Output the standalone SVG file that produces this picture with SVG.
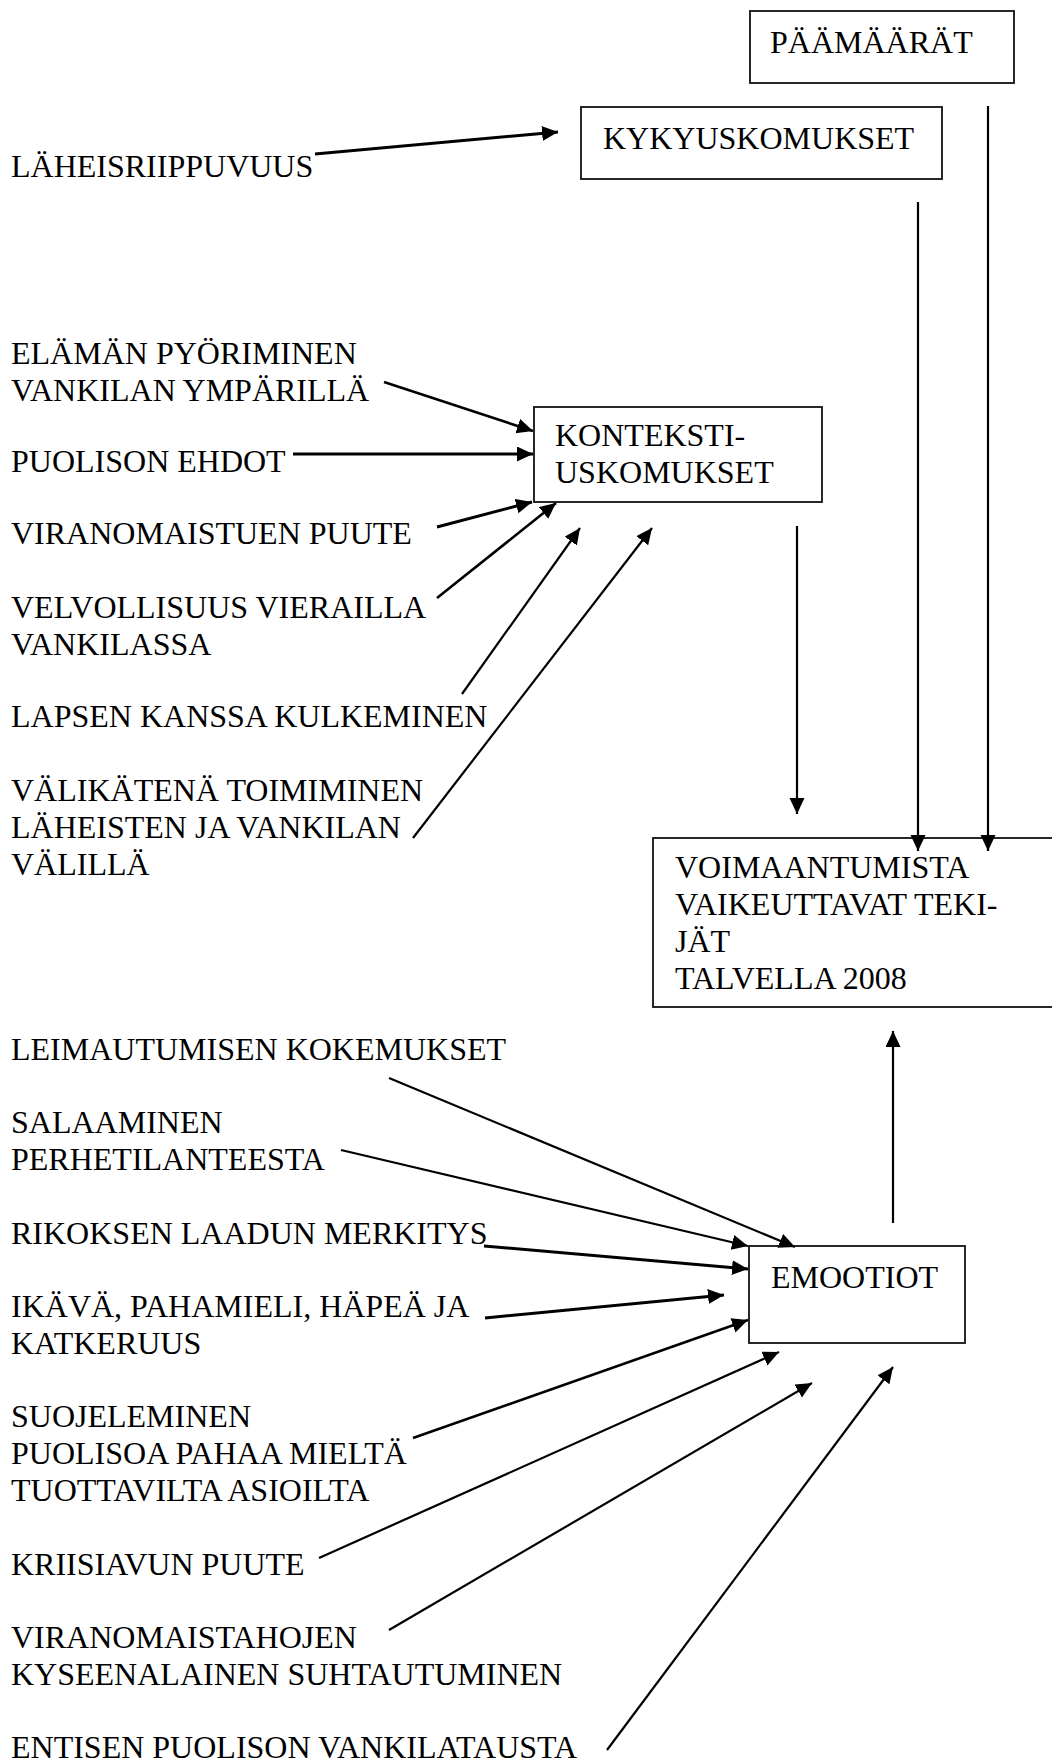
<svg xmlns="http://www.w3.org/2000/svg" width="1052" height="1762" viewBox="0 0 1052 1762">
<style>
text{font-family:"Liberation Serif","Times New Roman",serif;font-size:32px;fill:#000}
.box{fill:#fff;stroke:#111;stroke-width:1.8}
.c{stroke:#000;fill:none;stroke-width:2.2;marker-end:url(#ah)}
.t{stroke-width:3}
.m{stroke-width:2.6}
</style>
<defs>
<marker id="ah" markerUnits="userSpaceOnUse" markerWidth="18" markerHeight="16" refX="16" refY="7.5" orient="auto">
<path d="M0,0 L16,7.5 L0,15 z" fill="#000"/>
</marker>
</defs>
<rect width="1052" height="1762" fill="#fff"/>

<g id="paamaarat">
<rect class="box" x="750" y="11" width="264" height="72"/>
<text x="770" y="53">PÄÄMÄÄRÄT</text>
</g>
<g id="kykyuskomukset">
<rect class="box" x="581" y="107" width="361" height="72"/>
<text x="603" y="149">KYKYUSKOMUKSET</text>
</g>
<g id="kontekstiuskomukset">
<rect class="box" x="534" y="407" width="288" height="95"/>
<text x="555" y="446">KONTEKSTI-</text>
<text x="555" y="483">USKOMUKSET</text>
</g>
<g id="voimaantumista">
<rect class="box" x="653" y="838" width="420" height="169"/>
<text x="675" y="878">VOIMAANTUMISTA</text>
<text x="675" y="915">VAIKEUTTAVAT TEKI-</text>
<text x="675" y="952">JÄT</text>
<text x="675" y="989">TALVELLA 2008</text>
</g>
<g id="emootiot">
<rect class="box" x="749" y="1246" width="216" height="97"/>
<text x="771" y="1288">EMOOTIOT</text>
</g>

<g id="connectors">
<line class="c t" x1="315" y1="154" x2="558" y2="132"/>
<line class="c" x1="988" y1="106" x2="988" y2="851"/>
<line class="c" x1="918" y1="202" x2="918" y2="851"/>
<line class="c" x1="797" y1="526" x2="797" y2="814"/>
<line class="c m" x1="384" y1="382" x2="533" y2="431"/>
<line class="c t" x1="293" y1="454" x2="533" y2="454"/>
<line class="c t" x1="437" y1="527" x2="532" y2="502"/>
<line class="c m" x1="437" y1="598" x2="556" y2="503"/>
<line class="c" x1="462" y1="694" x2="580" y2="528"/>
<line class="c" x1="413" y1="838" x2="652" y2="528"/>
<line class="c" x1="893" y1="1223" x2="893" y2="1031"/>
<line class="c" x1="389" y1="1078" x2="795" y2="1247"/>
<line class="c" x1="341" y1="1150" x2="748" y2="1246"/>
<line class="c t" x1="484" y1="1246" x2="748" y2="1269"/>
<line class="c t" x1="485" y1="1318" x2="724" y2="1295"/>
<line class="c m" x1="413" y1="1438" x2="748" y2="1320"/>
<line class="c" x1="319" y1="1558" x2="779" y2="1352"/>
<line class="c" x1="389" y1="1630" x2="812" y2="1383"/>
<line class="c" x1="607" y1="1750" x2="893" y2="1367"/>
</g>

<g id="labels">
<text x="11" y="177">LÄHEISRIIPPUVUUS</text>
<text x="11" y="364">ELÄMÄN PYÖRIMINEN</text>
<text x="11" y="401">VANKILAN YMPÄRILLÄ</text>
<text x="11" y="472">PUOLISON EHDOT</text>
<text x="11" y="544">VIRANOMAISTUEN PUUTE</text>
<text x="11" y="618">VELVOLLISUUS VIERAILLA</text>
<text x="11" y="655">VANKILASSA</text>
<text x="11" y="727">LAPSEN KANSSA KULKEMINEN</text>
<text x="11" y="801">VÄLIKÄTENÄ TOIMIMINEN</text>
<text x="11" y="838">LÄHEISTEN JA VANKILAN</text>
<text x="11" y="875">VÄLILLÄ</text>
<text x="11" y="1060">LEIMAUTUMISEN KOKEMUKSET</text>
<text x="11" y="1133">SALAAMINEN</text>
<text x="11" y="1170">PERHETILANTEESTA</text>
<text x="11" y="1244">RIKOKSEN LAADUN MERKITYS</text>
<text x="11" y="1317">IKÄVÄ, PAHAMIELI, HÄPEÄ JA</text>
<text x="11" y="1354">KATKERUUS</text>
<text x="11" y="1427">SUOJELEMINEN</text>
<text x="11" y="1464">PUOLISOA PAHAA MIELTÄ</text>
<text x="11" y="1501">TUOTTAVILTA ASIOILTA</text>
<text x="11" y="1575">KRIISIAVUN PUUTE</text>
<text x="11" y="1648">VIRANOMAISTAHOJEN</text>
<text x="11" y="1685">KYSEENALAINEN SUHTAUTUMINEN</text>
<text x="11" y="1758">ENTISEN PUOLISON VANKILATAUSTA</text>
</g>
</svg>
